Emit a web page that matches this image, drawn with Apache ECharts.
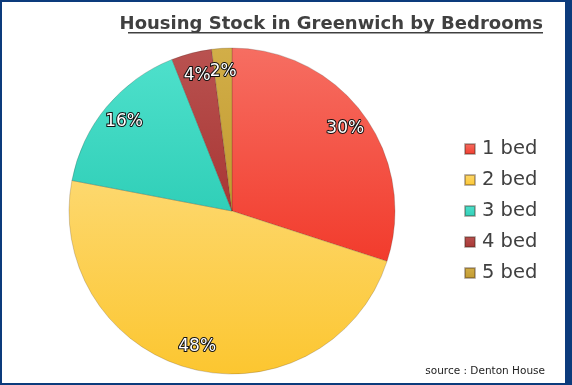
<!DOCTYPE html>
<html><head><meta charset="utf-8">
<script src="https://cdn.jsdelivr.net/npm/echarts@6/dist/echarts.min.js"></script>
<style>
html,body{margin:0;padding:0;background:#fff;}
#frame{position:absolute;left:0;top:0;width:572px;height:385px;background:#0c3b7c;}
#chart{position:absolute;left:2px;top:2px;width:563px;height:381px;background:#fff;}
</style></head>
<body><div id="frame"><div id="chart"></div></div>
<script>
const titleText = 'Housing Stock in Greenwich by Bedrooms';
const sourceText = 'source : Denton House';
const categories = ['1 bed', '2 bed', '3 bed', '4 bed', '5 bed'];
const values = [30, 48, 16, 4, 2];
const colorsTop = ['#f66e62', '#fdd86e', '#4ee0cb', '#b95250', '#d2ae48'];
const colorsBottom = ['#f23b2c', '#fcc630', '#30cfb8', '#a83634', '#c19a30'];

const grad = (i) => new echarts.graphic.LinearGradient(0, 0, 0, 1, [
  {offset: 0, color: colorsTop[i]}, {offset: 1, color: colorsBottom[i]}
]);
const pieData = categories.map((c, i) => ({name: c, value: values[i], itemStyle: {color: grad(i)}}));
const labelData = categories.map((c, i) => ({name: c, value: values[i]}));

const chart = echarts.init(document.getElementById('chart'), null, {renderer: 'canvas'});
const font = 'DejaVu Sans';
chart.setOption({
  animation: false,
  color: colorsBottom,
  title: {
    text: titleText, right: 17, top: 8,
    textStyle: {fontFamily: font, fontWeight: 'bold', fontSize: 18, color: '#404040'}
  },
  legend: {
    orient: 'vertical', left: 457, top: 132,
    itemWidth: 10, itemHeight: 10, itemGap: 11,
    icon: 'rect',
    textStyle: {fontFamily: font, fontSize: 19.5, color: '#404040', padding: [0, 0, 0, 2]},
    data: categories
  },
  graphic: [
    {type: 'text', right: 20, top: 364, style: {text: sourceText, font: '10.5px ' + font, fill: '#222'}},
    {type: 'rect', shape: {x: 126, y: 30, width: 415, height: 1.5}, style: {fill: '#404040'}}
  ],
  series: [
    {
      type: 'pie', center: [230, 209], radius: [0, 163], startAngle: 90, clockwise: true,
      silent: true, label: {show: false}, labelLine: {show: false},
      itemStyle: {borderColor: 'rgba(60,40,30,0.35)', borderWidth: 0.6},
      data: pieData
    },
    {
      type: 'pie', center: [230, 209], radius: [111, 163], startAngle: 90, clockwise: true,
      silent: true, legendHoverLink: false, avoidLabelOverlap: false,
      itemStyle: {color: 'rgba(0,0,0,0)'},
      label: {show: true, position: 'inside', formatter: '{c}%', fontFamily: font, fontSize: 17,
        color: '#fff', textBorderColor: '#111', textBorderWidth: 2, overflow: 'none'},
      labelLayout: {hideOverlap: false},
      labelLine: {show: false},
      data: labelData
    }
  ]
});
</script></body></html>
